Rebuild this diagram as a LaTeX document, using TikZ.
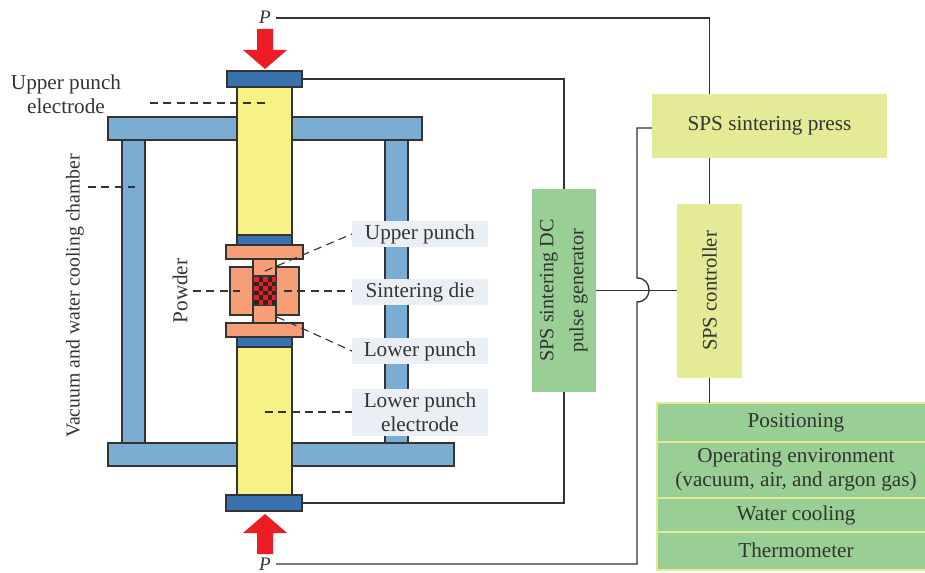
\documentclass[tikz,border=0pt]{standalone}
\usepackage{fontspec}
\setmainfont{Liberation Serif}
\definecolor{colblue}{HTML}{7BACD1}
\definecolor{elblue}{HTML}{3A72B0}
\definecolor{punchyellow}{HTML}{F6F285}
\definecolor{salmon}{HTML}{F69F76}
\definecolor{boxgreen}{HTML}{99CF94}
\definecolor{boxyellow}{HTML}{E5EA96}
\definecolor{labelbg}{HTML}{E9EFF4}
\definecolor{arrowred}{HTML}{ED1C24}
\definecolor{ink}{HTML}{333333}
\tikzset{
  part/.style={draw=ink,line width=1.1pt,inner sep=0pt,outer sep=0pt},
  plain/.style={inner sep=0pt,outer sep=0pt,text=ink,font=\fontsize{15.9}{18}\selectfont,align=center},
  tag/.style={plain,fill=labelbg},
  wire/.style={draw=ink,line width=1pt},
  leader/.style={draw=ink,line width=0.85pt,dash pattern=on 6pt off 4pt},
  redarrow/.style={fill=arrowred,draw=none},
  stack/.style={plain,fill=boxgreen,draw=boxyellow,line width=2.2pt}
}
% name, x0, y0, x1, y1, style, text
\newcommand{\pxrect}[7]{\node[#6,minimum width=(#4-#2)*0.75pt,minimum height=(#5-#3)*0.75pt] (#1) at ({(#2+#4)/2},{(#3+#5)/2}) {#7};}
\begin{document}
\begin{tikzpicture}[x=0.75pt,y=-0.75pt]
\useasboundingbox (0,0) rectangle (925,573);
% chamber
\pxrect{colL}{122}{140}{145}{443}{part,fill=colblue}{}
\pxrect{colR}{385}{140}{408}{443}{part,fill=colblue}{}
\pxrect{barT}{108}{117}{422}{140}{part,fill=colblue}{}
\pxrect{barB}{108}{443}{454}{466}{part,fill=colblue}{}
% stack
\pxrect{yelU}{237}{87}{292}{235}{part,fill=punchyellow}{}
\pxrect{yelL}{237}{347}{292}{495}{part,fill=punchyellow}{}
\pxrect{elT}{227}{71}{302}{87}{part,fill=elblue}{}
\pxrect{elB}{226}{495}{302}{511}{part,fill=elblue}{}
\pxrect{spU}{237}{235}{292}{245}{part,fill=elblue}{}
\pxrect{spL}{237}{337}{292}{347}{part,fill=elblue}{}
\pxrect{plU}{226}{245}{303}{259}{part,fill=salmon}{}
\pxrect{plL}{226}{323}{303}{337}{part,fill=salmon}{}
\pxrect{die}{230}{267}{299}{315}{part,fill=salmon}{}
\pxrect{puU}{253}{259}{276}{276}{part,fill=salmon}{}
\pxrect{puL}{253}{305}{276}{323}{part,fill=salmon}{}
\pxrect{pow}{253}{276}{276}{305}{part,fill=black!85}{}
\begin{scope}
\clip (253.5,276.5) rectangle (275.5,304.5);
\foreach \i in {0,...,4}\foreach \j in {0,...,6}{
  \pgfmathparse{int(mod(\i+\j,2))}
  \ifnum\pgfmathresult=0
    \fill[arrowred] ({254+\i*4.6},{277+\j*4.6}) rectangle ++(4.6,4.6);
  \fi}
\end{scope}
% red arrows
\fill[redarrow] (257,29) -- (273,29) -- (273,50) -- (287,50) -- (265,69) -- (243,50) -- (257,50) -- cycle;
\fill[redarrow] (257,554) -- (273,554) -- (273,533) -- (287,533) -- (265,514) -- (243,533) -- (257,533) -- cycle;
% labels over the chamber
\pxrect{tUP}{352}{221}{488}{247}{tag}{Upper punch}
\pxrect{tSD}{352}{279}{488}{305}{tag}{Sintering die}
\pxrect{tLP}{352}{338}{488}{364}{tag}{Lower punch}
\pxrect{tLE}{352}{389}{488}{436}{tag}{Lower punch\\electrode}
\node[plain] (tUE) at (66,94) {Upper punch\\electrode};
\node[plain,font=\fontsize{14.8}{18}\selectfont,rotate=90] (tVac) at (75,296) {Vacuum and water cooling chamber};
\node[plain,rotate=90] (tPow) at (180,291) {Powder};
\node[plain,font=\fontsize{14.3}{17}\selectfont\itshape] (pT) at (265,17) {P};
\node[plain,font=\fontsize{14.3}{17}\selectfont\itshape] (pB) at (265,564) {P};
% right boxes
\pxrect{press}{652}{94}{887}{158}{plain,fill=boxyellow}{SPS sintering press}
\pxrect{ctrl}{677}{204}{742}{378}{plain,fill=boxyellow}{}
\node[plain,font=\fontsize{15.5}{18}\selectfont,rotate=90] at (ctrl.center) {SPS controller};
\pxrect{gen}{532}{189}{596}{392}{plain,fill=boxgreen}{}
\node[plain,font=\fontsize{15.1}{18}\selectfont,rotate=90] at (gen.center) {SPS sintering DC\\[4.5pt]pulse generator};
\pxrect{s1}{657}{403}{935}{442}{stack}{\raisebox{-0.7pt}{Positioning}}
\pxrect{s2}{657}{442}{935}{498}{stack}{Operating environment\\(vacuum, air, and argon gas)}
\pxrect{s3}{657}{498}{935}{532}{stack}{\raisebox{-0.7pt}{Water cooling}}
\pxrect{s4}{657}{532}{935}{570}{stack}{\raisebox{1.5pt}{Thermometer}}
% wires
\coordinate (pTwire) at (276,18);
\draw[wire] (pTwire) -| (press.north -| ctrl.north);
\draw[wire] (press.south -| ctrl.north) -- (ctrl.north);
\draw[wire] (ctrl.south) -- (s1.north -| ctrl.south);
\draw[wire] (elT.east) -| (gen.north);
\draw[wire] (elB.east) -| (gen.south);
\draw[wire] (gen.east) -- (gen.east -| ctrl.west);
\coordinate (pressIn) at (652,128);
\coordinate (hopT) at (637,278);
\coordinate (hopB) at (637,302);
\coordinate (pBwire) at (276,564);
\draw[wire] (pressIn) -| (hopT) .. controls (653,278) and (653,302) .. (hopB) |- (pBwire);
% leaders
\coordinate (a1) at (150,103); \coordinate (a2) at (265,103);
\draw[leader] (a1) -- (a2);
\coordinate (b1) at (88,187); \coordinate (b2) at (135,187);
\draw[leader] (b1) -- (b2);
\coordinate (c1) at (193,291); \coordinate (c2) at (240,291);
\draw[leader] (c1) -- (c2);
\coordinate (c3) at (284,291);
\draw[leader] (c3) -- (c3 -| tSD.west);
\coordinate (d1) at (265,271);
\draw[leader] (d1) -- (tUP.west);
\coordinate (e1) at (277,317);
\draw[leader] (e1) -- (tLP.west);
\coordinate (f1) at (265,412);
\draw[leader] (f1) -- (f1 -| tLE.west);
\end{tikzpicture}
\end{document}
